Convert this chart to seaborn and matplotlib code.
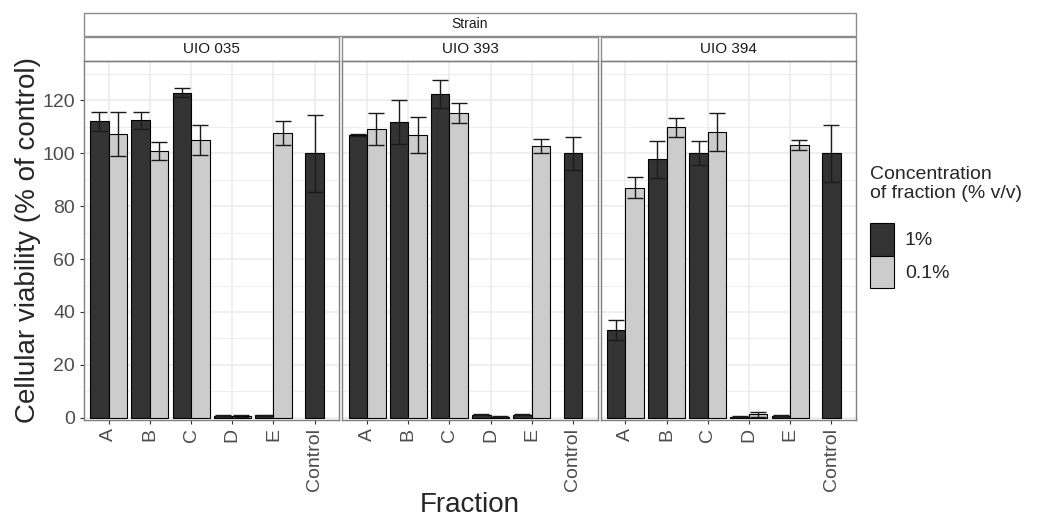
import numpy as np
import pandas as pd
import matplotlib.pyplot as plt
from matplotlib.patches import Rectangle, Patch
import seaborn as sns

# data (mean and error, % of control)
strains = ['UIO 035', 'UIO 393', 'UIO 394']
fractions = ['A', 'B', 'C', 'D', 'E', 'Control']
concs = ['1%', '0.1%']

uio035_1 = [112.0, 112.5, 122.8, 0.8, 1.0, 100.0]
uio035_1_err = [3.7, 3.2, 1.7, 0.2, 0.2, 14.5]
uio035_01 = [107.2, 100.8, 104.9, 0.7, 107.7, np.nan]
uio035_01_err = [8.4, 3.3, 5.6, 0.2, 4.6, np.nan]

uio393_1 = [106.7, 111.9, 122.3, 1.2, 1.2, 100.0]
uio393_1_err = [0.4, 8.3, 5.2, 0.2, 0.2, 6.2]
uio393_01 = [109.1, 106.8, 115.0, 0.5, 102.8, np.nan]
uio393_01_err = [6.0, 6.8, 3.8, 0.1, 2.6, np.nan]

uio394_1 = [33.2, 97.6, 99.9, 0.5, 0.8, 100.0]
uio394_1_err = [3.7, 7.0, 4.5, 0.2, 0.2, 10.8]
uio394_01 = [87.0, 109.7, 108.1, 1.3, 103.0, np.nan]
uio394_01_err = [3.8, 3.5, 7.2, 1.0, 1.9, np.nan]

colors = {'1%': '#333333', '0.1%': '#cccccc'}

# long table, with dodge offsets (control has a single centred bar)
rows = []
series = [(uio035_1, uio035_1_err, uio035_01, uio035_01_err),
          (uio393_1, uio393_1_err, uio393_01, uio393_01_err),
          (uio394_1, uio394_1_err, uio394_01, uio394_01_err)]
for strain, (m1, e1, m01, e01) in zip(strains, series):
    for i, frac in enumerate(fractions):
        for conc, m, e, off in [('1%', m1[i], e1[i], -0.225), ('0.1%', m01[i], e01[i], 0.225)]:
            if np.isnan(m):
                continue
            if frac == 'Control':
                off = 0
            rows.append({'Strain': strain, 'Fraction': frac, 'Conc': conc,
                         'value': m, 'err': e, 'pos': i + off})
df = pd.DataFrame(rows)

sns.set_style('white')
plt.rcParams['font.family'] = ['Liberation Sans', 'DejaVu Sans']

fig, axes = plt.subplots(1, 3, figsize=(10.4, 5.2), dpi=100, sharey=True)
fig.subplots_adjust(left=84/1040, right=856/1040, bottom=1-420/520, top=1-61/520, wspace=0.012)

for k, (ax, strain) in enumerate(zip(axes, strains)):
    sub = df[df['Strain'] == strain]
    sns.barplot(data=sub, x='pos', y='value', hue='Conc', hue_order=concs,
                palette=colors, native_scale=True, dodge=False, width=1.0,
                errorbar=None, edgecolor='black', linewidth=0.8, legend=False,
                ax=ax, zorder=2)
    ax.errorbar(sub['pos'], sub['value'], yerr=sub['err'], fmt='none',
                ecolor='#1a1a1a', elinewidth=1, capsize=5.5, capthick=1, zorder=3)

    ax.set_xlim(-0.6, 5.6)
    ax.set_ylim(-0.8, 134.8)
    ax.set_xticks(range(len(fractions)))
    ax.set_xticklabels(fractions, rotation=90, fontsize=14, color='#4d4d4d')
    ax.set_yticks(range(0, 121, 20))
    ax.set_yticks(range(10, 131, 20), minor=True)
    ax.tick_params(axis='y', labelsize=14, labelcolor='#4d4d4d', length=3,
                   color='#333333', left=(k == 0), which='major')
    ax.tick_params(axis='y', which='minor', left=False)
    ax.tick_params(axis='x', length=3, color='#333333', bottom=True, pad=3)
    ax.set_xlabel('')
    ax.set_ylabel('')
    ax.set_axisbelow(True)
    ax.grid(True, which='major', color='#ebebeb', linewidth=1.1)
    ax.grid(True, which='minor', axis='y', color='#ebebeb', linewidth=0.6)
    for sp in ax.spines.values():
        sp.set_color('#7f7f7f')
        sp.set_linewidth(1)

    # facet strip
    h = 24 / 359
    ax.add_patch(Rectangle((0, 1), 1, h, transform=ax.transAxes, clip_on=False,
                           facecolor='white', edgecolor='#8c8c8c', linewidth=1))
    ax.text(0.5, 1 + h / 2, strain, transform=ax.transAxes, ha='center',
            va='center', fontsize=11, color='#1a1a1a')

# outer "Strain" strip
fig.add_artist(Rectangle((84/1040, 1-36/520), 772/1040, 23/520, transform=fig.transFigure,
                         facecolor='white', edgecolor='#8c8c8c', linewidth=1))
fig.text(470/1040, 1-24.5/520, 'Strain', ha='center', va='center', fontsize=10, color='#1a1a1a')

fig.text(28/1040, 1-240/520, 'Cellular viability (% of control)', rotation=90,
         ha='center', va='center', fontsize=20)
fig.text(470/1040, 1-505/520, 'Fraction', ha='center', va='center', fontsize=20)

# legend
fig.text(870/1040, 1-166/520, 'Concentration\nof fraction (% v/v)', ha='left', va='top',
         fontsize=14, linespacing=1.15)
handles = [Patch(facecolor=colors[c], edgecolor='black', linewidth=0.8) for c in concs]
fig.legend(handles, concs, loc='upper left', bbox_to_anchor=(870/1040, 1-223/520),
           frameon=False, borderpad=0, labelspacing=0, handlelength=1.25,
           handleheight=2.2, handletextpad=0.55, fontsize=14, borderaxespad=0)

plt.savefig('out.png', dpi=100)
